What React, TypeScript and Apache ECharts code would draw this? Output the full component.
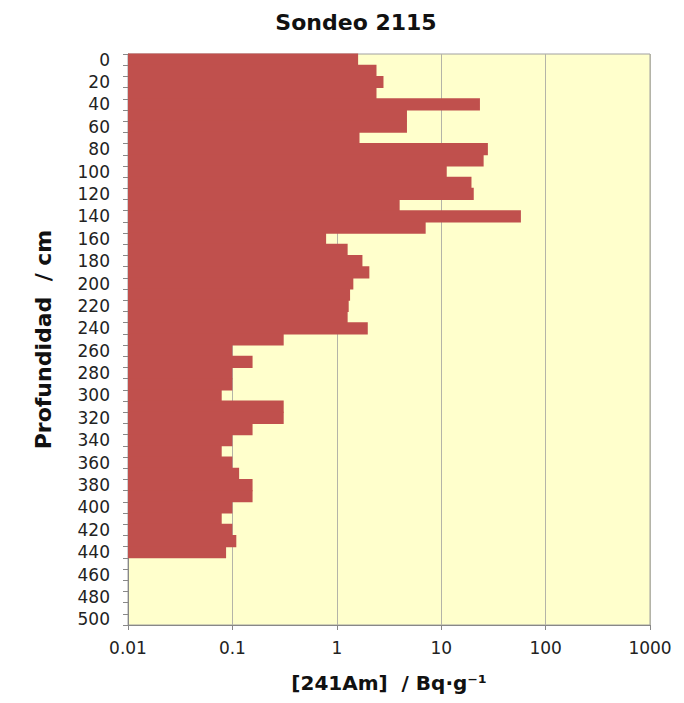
import React, { useEffect, useRef } from "react";
import * as echarts from "echarts";

// Depth categories (cm), one 10 cm slice each
const depthLabels: string[] = [
  "0", "10", "20", "30", "40", "50", "60", "70", "80", "90",
  "100", "110", "120", "130", "140", "150", "160", "170", "180", "190",
  "200", "210", "220", "230", "240", "250", "260", "270", "280", "290",
  "300", "310", "320", "330", "340", "350", "360", "370", "380", "390",
  "400", "410", "420", "430", "440", "450", "460", "470", "480", "490",
  "500",
];

// 241Am activity (Bq/g) for slices 0 .. 440 cm
const amActivity: number[] = [
  1.6, 2.4, 2.8, 2.4, 23.5, 4.7, 4.7, 1.65, 28, 25.5,
  11.3, 19.5, 20.5, 4.0, 58, 7.1, 0.79, 1.27, 1.76, 2.05,
  1.44, 1.34, 1.3, 1.27, 1.98, 0.31, 0.1, 0.156, 0.1, 0.1,
  0.079, 0.31, 0.31, 0.156, 0.1, 0.079, 0.1, 0.116, 0.156, 0.156,
  0.1, 0.079, 0.1, 0.109, 0.087,
];

const X_MIN = 0.01;
const X_MAX = 1000;

const FONT = '"DejaVu Sans", Verdana, sans-serif';

export default function App() {
  const ref = useRef<HTMLDivElement>(null);

  useEffect(() => {
    if (!ref.current) return;
    const chart = echarts.init(ref.current, undefined, { renderer: "svg" });

    const barData = amActivity.map((v, i) => [v, i]);

    chart.setOption({
      animation: false,
      backgroundColor: "#ffffff",
      graphic: [
        {
          type: "text",
          x: 356,
          y: 22,
          style: {
            text: "Sondeo 2115",
            fill: "#111",
            font: `bold 22px ${FONT}`,
            align: "center",
            verticalAlign: "middle",
          },
        },
      ],
      grid: {
        left: 128,
        right: 34,
        top: 54,
        bottom: 78,
        show: true,
        backgroundColor: "#ffffcc",
        borderColor: "#a0a0a0",
        borderWidth: 1,
      },
      xAxis: {
        type: "log",
        logBase: 10,
        min: X_MIN,
        max: X_MAX,
        name: "[241Am]  / Bq·g⁻¹",
        nameLocation: "middle",
        nameGap: 48,
        nameTextStyle: {
          fontFamily: FONT,
          fontWeight: "bold",
          fontSize: 20,
          color: "#111",
        },
        axisLine: { show: true, lineStyle: { color: "#888", width: 1 } },
        axisTick: { show: true, length: 5, lineStyle: { color: "#888" } },
        axisLabel: {
          fontFamily: FONT,
          fontSize: 17,
          color: "#222",
          margin: 14,
          formatter: (v: number) => String(Number(v.toPrecision(6))),
        },
        splitLine: { show: true, lineStyle: { color: "#b4b4a8", width: 1 } },
      },
      yAxis: {
        type: "category",
        inverse: true,
        data: depthLabels,
        name: "Profundidad  / cm",
        nameLocation: "middle",
        nameRotate: 90,
        nameGap: 74,
        nameTextStyle: {
          fontFamily: FONT,
          fontWeight: "bold",
          fontSize: 22,
          color: "#111",
        },
        axisLine: { show: true, lineStyle: { color: "#888", width: 1 } },
        axisTick: { show: true, interval: 0, length: 5, lineStyle: { color: "#888" } },
        axisLabel: {
          interval: 1,
          fontFamily: FONT,
          fontSize: 17,
          color: "#222",
          margin: 18,
        },
        splitLine: { show: false },
      },
      series: [
        {
          type: "custom",
          coordinateSystem: "cartesian2d",
          encode: { x: 0, y: 1 },
          data: barData,
          renderItem: (params: any, api: any) => {
            const v = api.value(0);
            const cat = api.value(1);
            const start = api.coord([X_MIN, cat]);
            const end = api.coord([v, cat]);
            const next = api.coord([v, cat + 1]);
            const h = Math.abs(next[1] - end[1]);
            // slight overlap so neighbouring slices join without seams
            return {
              type: "rect",
              shape: {
                x: start[0],
                y: end[1] - h / 2 - 0.5,
                width: end[0] - start[0],
                height: h + 1,
              },
              style: { fill: "#c0504d" },
            };
          },
        },
      ],
    });

    return () => chart.dispose();
  }, []);

  return (
    <div
      ref={ref}
      style={{ position: "fixed", left: 0, top: 0, width: 684, height: 703 }}
    />
  );
}
